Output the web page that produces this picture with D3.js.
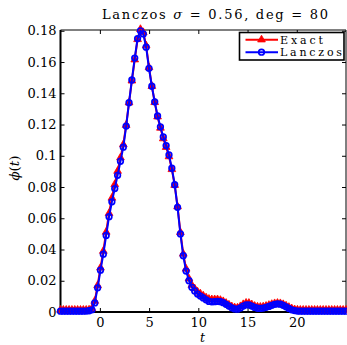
<!DOCTYPE html>
<html>
<head>
<meta charset="utf-8">
<script src="https://cdn.jsdelivr.net/npm/d3@7"></script>
<style>
  html, body { margin: 0; padding: 0; background: #fff; }
  svg { display: block; }
  .tick text { font-family: "DejaVu Serif", "Liberation Serif", serif; font-size: 13px; fill: #000; }
</style>
</head>
<body>
<svg id="chart" width="347" height="345"></svg>
<script>
// Sample points t
const tValues = [
  -4.00, -3.71, -3.42, -3.13, -2.84, -2.55, -2.26, -1.97, -1.68, -1.39,
  -1.10, -0.81, -0.52, -0.23, 0.06, 0.35, 0.64, 0.93, 1.22, 1.51,
  1.80, 2.09, 2.38, 2.67, 2.96, 3.25, 3.54, 3.83, 4.12, 4.41,
  4.70, 4.99, 5.28, 5.57, 5.86, 6.15, 6.44, 6.73, 7.02, 7.31,
  7.60, 7.89, 8.18, 8.47, 8.76, 9.05, 9.34, 9.63, 9.92, 10.21,
  10.50, 10.79, 11.08, 11.37, 11.66, 11.95, 12.24, 12.53, 12.82, 13.11,
  13.40, 13.69, 13.98, 14.27, 14.56, 14.85, 15.14, 15.43, 15.72, 16.01,
  16.30, 16.59, 16.88, 17.17, 17.46, 17.75, 18.04, 18.33, 18.62, 18.91,
  19.20, 19.49, 19.78, 20.07, 20.36, 20.65, 20.94, 21.23, 21.52, 21.81,
  22.10, 22.39, 22.68, 22.97, 23.26, 23.55, 23.84, 24.13, 24.42, 24.71,
  25.00
];

// Exact density phi(t)
const exactValues = [
  0.0013, 0.0013, 0.0013, 0.0013, 0.0013, 0.0013, 0.0013, 0.0013, 0.0013, 0.0013,
  0.0014, 0.0022, 0.0070, 0.0170, 0.0283, 0.0390, 0.0512, 0.0632, 0.0730, 0.0817,
  0.0902, 0.0988, 0.1072, 0.1196, 0.1340, 0.1480, 0.1615, 0.1745, 0.1810, 0.1790,
  0.1705, 0.1565, 0.1445, 0.1342, 0.1250, 0.1178, 0.1110, 0.1055, 0.0995, 0.0913,
  0.0812, 0.0675, 0.0510, 0.0372, 0.0276, 0.0213, 0.0172, 0.0150, 0.0130, 0.0117,
  0.0104, 0.0092, 0.0083, 0.0080, 0.0080, 0.0080, 0.0076, 0.0068, 0.0057, 0.0046,
  0.0035, 0.0028, 0.0027, 0.0036, 0.0049, 0.0058, 0.0057, 0.0048, 0.0038, 0.0033,
  0.0032, 0.0034, 0.0038, 0.0044, 0.0050, 0.0055, 0.0057, 0.0055, 0.0049, 0.0040,
  0.0031, 0.0022, 0.0016, 0.0014, 0.0013, 0.0013, 0.0013, 0.0013, 0.0013, 0.0013,
  0.0013, 0.0013, 0.0013, 0.0013, 0.0013, 0.0013, 0.0013, 0.0013, 0.0013, 0.0013,
  0.0013
];

// Lanczos approximation of phi(t)
const lanczosValues = [
  0.0005, 0.0005, 0.0005, 0.0005, 0.0005, 0.0005, 0.0005, 0.0005, 0.0005, 0.0006,
  0.0008, 0.0014, 0.0058, 0.0155, 0.0268, 0.0370, 0.0490, 0.0610, 0.0705, 0.0790,
  0.0875, 0.0965, 0.1055, 0.1190, 0.1340, 0.1485, 0.1625, 0.1750, 0.1800, 0.1780,
  0.1695, 0.1560, 0.1445, 0.1345, 0.1255, 0.1185, 0.1120, 0.1065, 0.1005, 0.0920,
  0.0815, 0.0670, 0.0500, 0.0360, 0.0262, 0.0200, 0.0158, 0.0135, 0.0115, 0.0102,
  0.0090, 0.0078, 0.0068, 0.0065, 0.0066, 0.0068, 0.0066, 0.0060, 0.0049, 0.0038,
  0.0027, 0.0020, 0.0018, 0.0026, 0.0038, 0.0046, 0.0045, 0.0038, 0.0029, 0.0024,
  0.0023, 0.0025, 0.0030, 0.0036, 0.0043, 0.0049, 0.0052, 0.0050, 0.0043, 0.0033,
  0.0023, 0.0014, 0.0009, 0.0006, 0.0005, 0.0005, 0.0005, 0.0005, 0.0005, 0.0005,
  0.0005, 0.0005, 0.0005, 0.0005, 0.0005, 0.0005, 0.0005, 0.0005, 0.0005, 0.0005,
  0.0005
];

const xTicks = [0, 5, 10, 15, 20];
const yTicks = [0, 0.02, 0.04, 0.06, 0.08, 0.1, 0.12, 0.14, 0.16, 0.18];
const yTickLabels = ["0", "0.02", "0.04", "0.06", "0.08", "0.1", "0.12", "0.14", "0.16", "0.18"];
const seriesNames = ["Exact", "Lanczos"];

const serif = '"DejaVu Serif", "Liberation Serif", serif';
const svg = d3.select("#chart");

const plotL = 60.5, plotR = 346, plotT = 30, plotB = 312;
const x = d3.scaleLinear().domain([-4, 25]).range([plotL, plotR]);
const y = d3.scaleLinear().domain([0, 0.1805]).range([plotB, plotT]);

// Axes with inward ticks on all four sides
const axisG = svg.append("g");
axisG.append("g").attr("transform", `translate(0,${plotB})`)
  .call(d3.axisBottom(x).tickValues(xTicks).tickFormat(d3.format("d")).tickSizeInner(-4).tickSizeOuter(0).tickPadding(5.5))
  .call(g => g.select(".domain").remove());
axisG.append("g").attr("transform", `translate(0,${plotT})`)
  .call(d3.axisTop(x).tickValues(xTicks).tickFormat("").tickSizeInner(-4).tickSizeOuter(0))
  .call(g => g.select(".domain").remove());
axisG.append("g").attr("transform", `translate(${plotL},0)`)
  .call(d3.axisLeft(y).tickValues(yTicks).tickFormat((d, i) => yTickLabels[i]).tickSizeInner(-4).tickSizeOuter(0).tickPadding(4))
  .call(g => g.select(".domain").remove());
axisG.append("g").attr("transform", `translate(${plotR},0)`)
  .call(d3.axisRight(y).tickValues(yTicks).tickFormat("").tickSizeInner(-4).tickSizeOuter(0))
  .call(g => g.select(".domain").remove());
axisG.selectAll(".tick line").attr("stroke", "#000").attr("stroke-width", 1);

// Axes box
axisG.append("line").attr("x1", plotL).attr("x2", plotR).attr("y1", plotT).attr("y2", plotT).attr("stroke", "#000").attr("stroke-width", 1);
axisG.append("line").attr("x1", plotR).attr("x2", plotR).attr("y1", plotT).attr("y2", plotB).attr("stroke", "#000").attr("stroke-width", 1);
axisG.append("line").attr("x1", plotL).attr("x2", plotL).attr("y1", plotT).attr("y2", plotB + 1).attr("stroke", "#000").attr("stroke-width", 2);
axisG.append("line").attr("x1", plotL).attr("x2", plotR).attr("y1", plotB).attr("y2", plotB).attr("stroke", "#000").attr("stroke-width", 2);

const pts = (vals) => tValues.map((t, i) => [t, vals[i]]);
const lineGen = d3.line().x(d => x(d[0])).y(d => y(d[1]));

// Exact: red line with filled triangles
const exactG = svg.append("g");
exactG.append("path").datum(pts(exactValues))
  .attr("d", lineGen).attr("fill", "none").attr("stroke", "#ff0000").attr("stroke-width", 2);
const tri = d3.symbol().type(d3.symbolTriangle).size(26);
exactG.selectAll("path.m").data(pts(exactValues)).join("path").attr("class", "m")
  .attr("d", tri).attr("transform", d => `translate(${x(d[0])},${y(d[1])})`)
  .attr("fill", "#ff0000").attr("stroke", "#ff0000").attr("stroke-width", 0.8);

// Lanczos: blue line with open circles
const lancG = svg.append("g");
lancG.append("path").datum(pts(lanczosValues))
  .attr("d", lineGen).attr("fill", "none").attr("stroke", "#0000ff").attr("stroke-width", 2);
lancG.selectAll("circle").data(pts(lanczosValues)).join("circle")
  .attr("cx", d => x(d[0])).attr("cy", d => y(d[1])).attr("r", 2.8)
  .attr("fill", "none").attr("stroke", "#0000ff").attr("stroke-width", 1.7);

// Title
const title = svg.append("text").attr("x", 102).attr("y", 18.5)
  .attr("font-family", serif).attr("font-size", 13).attr("fill", "#000")
  .attr("textLength", 226).attr("lengthAdjust", "spacing");
title.append("tspan").text("Lanczos ");
title.append("tspan").attr("font-style", "italic").text("σ");
title.append("tspan").text(" = 0.56, deg = 80");

// Axis labels
svg.append("text").attr("x", 202.5).attr("y", 341.5).attr("text-anchor", "middle")
  .attr("font-family", serif).attr("font-style", "italic").attr("font-size", 12.5).text("t");
const ylab = svg.append("text").attr("transform", "translate(19,168) rotate(-90)").attr("text-anchor", "middle")
  .attr("font-family", serif).attr("font-size", 13.5);
ylab.append("tspan").attr("font-style", "italic").text("ϕ");
ylab.append("tspan").text("(");
ylab.append("tspan").attr("font-style", "italic").text("t");
ylab.append("tspan").text(")");

// Legend
const lg = svg.append("g");
lg.append("rect").attr("x", 239.5).attr("y", 32.5).attr("width", 104.5).attr("height", 27.5)
  .attr("fill", "#fff").attr("stroke", "#000").attr("stroke-width", 1.6);
const rows = [
  { name: seriesNames[0], color: "#ff0000", y: 39.7, marker: "tri", w: 43 },
  { name: seriesNames[1], color: "#0000ff", y: 52.2, marker: "circ", w: 62 }
];
rows.forEach(r => {
  lg.append("line").attr("x1", 245.5).attr("x2", 278).attr("y1", r.y).attr("y2", r.y)
    .attr("stroke", r.color).attr("stroke-width", 2);
  if (r.marker === "tri") {
    lg.append("path").attr("d", tri).attr("transform", `translate(261.5,${r.y})`)
      .attr("fill", r.color).attr("stroke", r.color).attr("stroke-width", 0.8);
  } else {
    lg.append("circle").attr("cx", 261.5).attr("cy", r.y).attr("r", 2.8)
      .attr("fill", "none").attr("stroke", r.color).attr("stroke-width", 1.7);
  }
  lg.append("text").attr("x", 280).attr("y", r.y + 4)
    .attr("font-family", serif).attr("font-size", 11).attr("fill", "#000")
    .attr("textLength", r.w).attr("lengthAdjust", "spacing")
    .text(r.name);
});
</script>
</body>
</html>
